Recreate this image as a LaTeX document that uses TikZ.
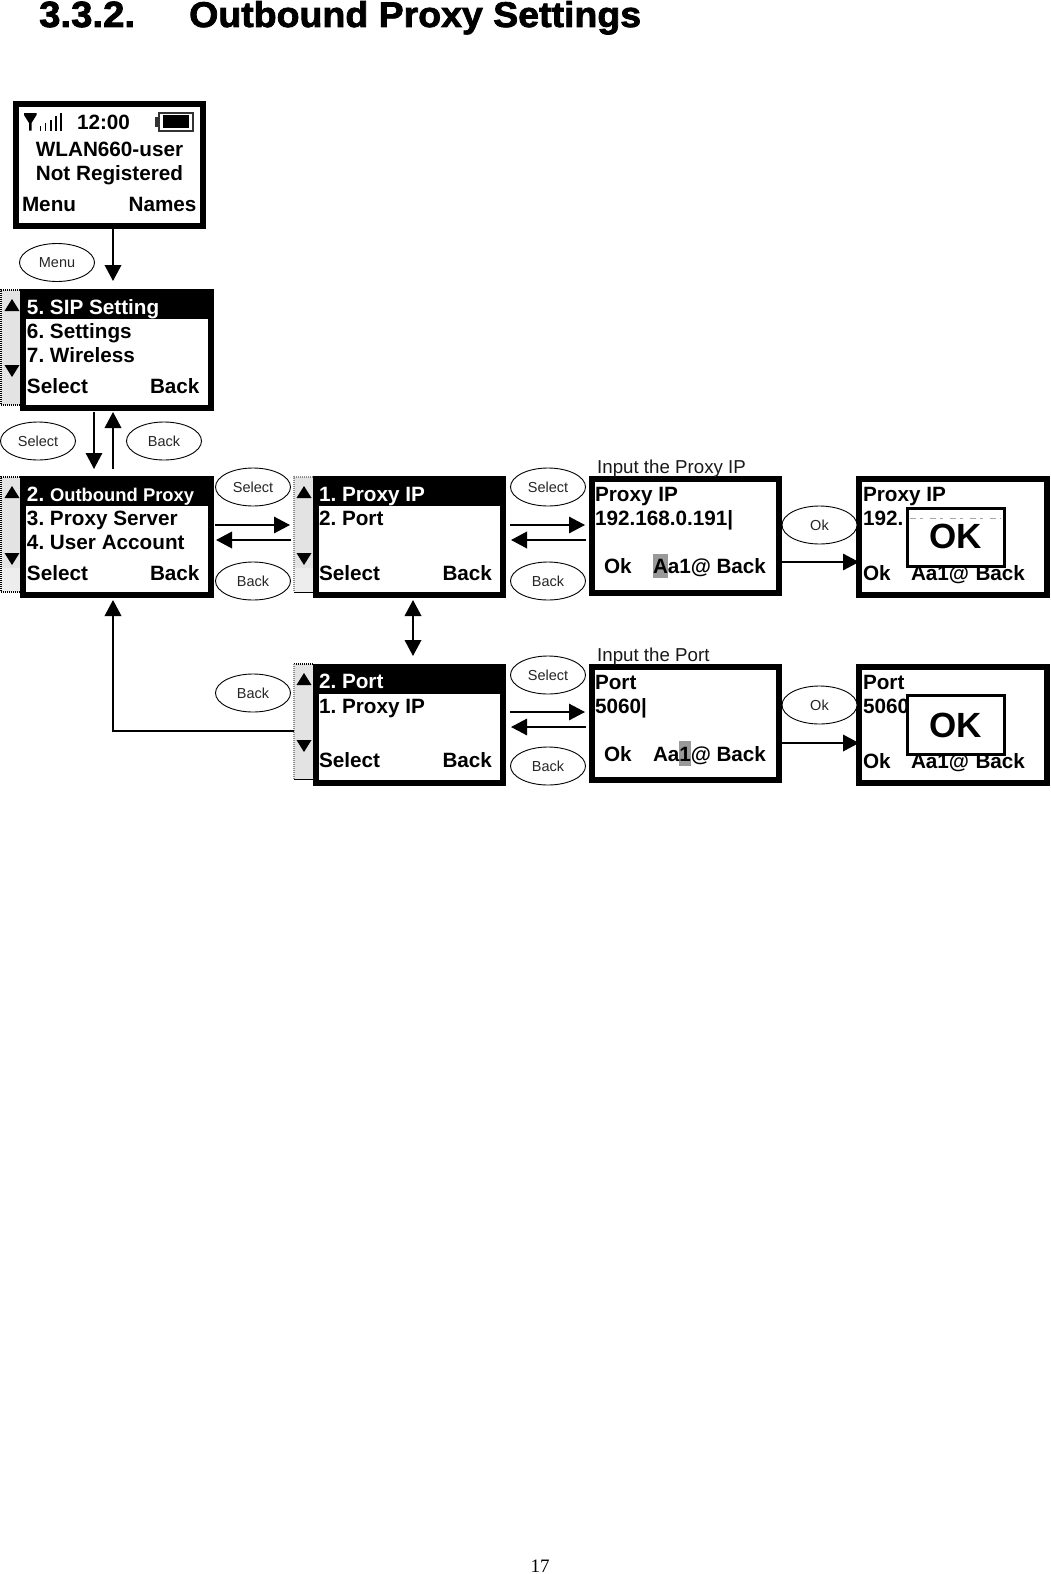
\documentclass[tikz,border=0pt]{standalone}
\usepackage{fontspec}
\setmainfont{Liberation Sans}
\newfontfamily\titlef[FakeBold=2.2,FakeStretch=1.05,UprightFont=* Bold]{Liberation Sans}
\newfontfamily\lcdb[UprightFont=* Bold]{Liberation Sans}
\newfontfamily\okf[UprightFont=* Bold]{Liberation Sans}
\newfontfamily\pagef{Liberation Serif}
\usetikzlibrary{arrows.meta,shapes.geometric}
\frenchspacing
\definecolor{sbgray}{gray}{0.89}
\definecolor{sblight}{gray}{0.93}
\definecolor{hl}{gray}{0.6}
\tikzset{
  screen/.style={draw=black,line width=6pt,fill=white,inner sep=0pt,outer sep=0pt,rectangle},
  headbar/.style={fill=black,draw=none},
  lcd/.style={font={\lcdb\fontsize{20.7}{24}\selectfont},inner sep=0pt,outer sep=0pt,anchor=base west,text=black},
  lcdw/.style={lcd,text=white},
  key/.style={draw=black,ellipse,fill=white,line width=0.9pt,minimum width=75pt,minimum height=38pt,inner sep=0pt,font={\fontsize{14.5}{16}\selectfont},text=black!85},
  note/.style={font={\fontsize{18.7}{22}\selectfont},inner sep=0pt,anchor=base west,text=black!90},
  okbox/.style={draw=black,line width=3pt,fill=white,inner sep=0pt,outer sep=0pt},
  oktext/.style={font={\okf\fontsize{35}{38}\selectfont},inner sep=0pt,anchor=base},
  arr/.style={-{Triangle[length=16pt,width=16.5pt]},line width=1.5pt,draw=black},
  arrb/.style={arr,line width=2pt},
  darr/.style={{Triangle[length=16pt,width=16.5pt]}-{Triangle[length=16pt,width=16.5pt]},line width=2pt},
  sbar/.style={rectangle,fill=sbgray,inner sep=0pt,outer sep=0pt,draw=none},
  dotb/.style={line width=1.6pt,dash pattern=on 1pt off 1pt,draw=black},
}
\newcommand{\scr}[5]{%
  \pgfmathsetmacro\cxx{(#2+#4)/2}\pgfmathsetmacro\cyy{(#3+#5)/2}%
  \pgfmathsetmacro\www{#4-#2-6}\pgfmathsetmacro\hhh{#5-#3-6}%
  \node[screen,minimum width=\www pt,minimum height=\hhh pt] (#1) at (\cxx,\cyy) {};}
\newcommand{\sbr}[5]{%
  \pgfmathsetmacro\cxx{(#2+#4)/2}\pgfmathsetmacro\cyy{(#3+#5)/2}%
  \pgfmathsetmacro\www{#4-#2}\pgfmathsetmacro\hhh{#5-#3}%
  \node[sbar,minimum width=\www pt,minimum height=\hhh pt] (#1) at (\cxx,\cyy) {};}
\newcommand{\triup}[2]{\fill[black] (#1-7.5,#2+12) -- (#1+7.5,#2+12) -- (#1,#2) -- cycle;}
\newcommand{\tridn}[2]{\fill[black] (#1-7.5,#2) -- (#1+7.5,#2) -- (#1,#2+12) -- cycle;}
\begin{document}
\begin{tikzpicture}[x=1pt,y=-1pt]
\useasboundingbox[fill=white] (0,0) rectangle (1050,1574);

% title and page number
\node[font={\titlef\fontsize{36.5}{42}\selectfont},inner sep=0pt,anchor=base west] (t1) at (39,27) {3.3.2.};
\node[font={\titlef\fontsize{35.7}{42}\selectfont},inner sep=0pt,anchor=base west] (t2) at (189,27) {Outbound Proxy Settings};
\node[font={\pagef\fontsize{19}{22}\selectfont},inner sep=0pt,anchor=base] (pg) at (540,1572) {17};

% scroll bars
\sbr{sb1}{1}{290}{20}{405}
\sbr{sb2}{1}{477}{20}{592}
\sbr{sb3}{294}{477}{313}{592}
\sbr{sb4}{294}{664}{313}{779}
\fill[sblight] (1,568) rectangle (20,592);
\fill[sblight] (294,568) rectangle (313,592);
\draw[dotb] (sb1.north east) -- (sb1.north west) -- (sb1.south west) -- (sb1.south east);
\draw[dotb] (sb2.north east) -- (sb2.north west) -- (sb2.south west) -- (sb2.south east);
\draw[dotb,draw=black!45] (sb3.north east) -- (sb3.north west) -- (sb3.south west);
\draw[line width=1pt] (sb3.south west) -- (sb3.south east);
\draw[dotb] (sb4.north east) -- (sb4.north west);
\draw[dotb,draw=black!45] (sb4.north west) -- (sb4.south west);
\draw[line width=1pt] (sb4.south west) -- (sb4.south east);
\triup{12}{299}\tridn{12}{365}
\triup{12}{486}\tridn{12}{553}
\triup{304}{486}\tridn{304}{553}
\triup{304}{673}\tridn{304}{740}

% screens
\scr{s0}{13}{101}{206}{229}
\scr{s1}{20}{289}{214}{411}
\scr{s2}{20}{476}{214}{598}
\scr{s3}{313}{476}{506}{598}
\scr{s4}{313}{664}{506}{786}
\scr{s5}{589}{476}{782}{596}
\scr{s6}{589}{664}{782}{783}
\scr{s7}{856}{476}{1050}{598}
\scr{s8}{856}{664}{1050}{786}

% header bars
\fill[headbar] (20,289) rectangle (214,319);
\fill[headbar] (20,476) rectangle (214,506);
\fill[headbar] (313,476) rectangle (506,506);
\fill[headbar] (313,664) rectangle (506,694);

% status icons
\fill[black] (24,113) -- (36.5,113) -- (36.5,115) -- (31.5,123) -- (31.5,130.5) -- (29,130.5) -- (29,123) -- (24,115) -- cycle;
\draw[line width=1.8pt] (40.5,130.5) -- (40.5,125.5) (45.5,130.5) -- (45.5,123) (50.7,130.5) -- (50.7,120) (55.7,130.5) -- (55.7,116) (60.7,130.5) -- (60.7,113);
\draw[line width=2pt,draw=black!80] (158.5,113) rectangle (192.5,130.5);
\fill[black] (163,115) rectangle (189,128);
\fill[black!80] (155,116.5) rectangle (158,127);

% screen 0
\node[lcd] (s0t) at (77,129) {12:00};
\node[lcd,anchor=base] (s0a) at (109.5,156) {WLAN660-user};
\node[lcd,anchor=base] (s0b) at (109.5,180) {Not Registered};
\node[lcd] (s0c) at (22,211) {Menu};
\node[lcd,anchor=base east] (s0d) at (196.5,211) {Names};

% screen 1
\node[lcdw] (s1a) at (27,314) {5. SIP Setting};
\node[lcd] (s1b) at (27,338) {6. Settings};
\node[lcd] (s1c) at (27,362) {7. Wireless};
\node[lcd] (s1d) at (27,393) {Select};
\node[lcd,anchor=base east] (s1e) at (199.5,393) {Back};

% screen 2
\node[lcdw] (s2a) at (27,501) {2. {\fontsize{18.4}{22}\selectfont Outbound Proxy}};
\node[lcd] (s2b) at (27,525) {3. Proxy Server};
\node[lcd] (s2c) at (27,549) {4. User Account};
\node[lcd] (s2d) at (27,580) {Select};
\node[lcd,anchor=base east] (s2e) at (199.5,580) {Back};

% screen 3
\node[lcdw] (s3a) at (319,501) {1. Proxy IP};
\node[lcd] (s3b) at (319,525) {2. Port};
\node[lcd] (s3d) at (319,580) {Select};
\node[lcd,anchor=base east] (s3e) at (492,580) {Back};

% screen 4
\node[lcdw] (s4a) at (319,688) {2. Port};
\node[lcd] (s4b) at (319,713) {1. Proxy IP};
\node[lcd] (s4d) at (319,767) {Select};
\node[lcd,anchor=base east] (s4e) at (492,767) {Back};

% screen 5
\fill[hl] (653,554) rectangle (668,578);
\node[lcd] (s5a) at (595,501) {Proxy IP};
\node[lcd] (s5b) at (595,525) {192.168.0.191|};
\node[lcd] (s5c) at (604,573) {Ok};
\node[lcd] (s5d) at (653,573) {Aa1@};
\node[lcd,anchor=base east] (s5e) at (766,573) {Back};

% screen 6
\fill[hl] (679,741) rectangle (691,766);
\node[lcd] (s6a) at (595,689) {Port};
\node[lcd] (s6b) at (595,713) {5060|};
\node[lcd] (s6c) at (604,761) {Ok};
\node[lcd] (s6d) at (653,761) {Aa1@};
\node[lcd,anchor=base east] (s6e) at (766,761) {Back};

% screen 7
\node[lcd] (s7a) at (863,501) {Proxy IP};
\node[lcd] (s7b) at (863,525) {192.};
\node[lcd] (s7c) at (863,580) {Ok};
\node[lcd] (s7d) at (911,580) {Aa1@};
\node[lcd,anchor=base east] (s7e) at (1025,580) {Back};
\node[okbox,minimum width=97pt,minimum height=58pt] (ok1) at (955.5,537.5) {};
\draw[black!35,line width=0.7pt,dash pattern=on 6pt off 4pt on 3pt off 7pt] (910,518) -- (1001,518);
\node[oktext] (ok1t) at (956,548) {OK};

% screen 8
\node[lcd] (s8a) at (863,689) {Port};
\node[lcd] (s8b) at (863,713) {5060};
\node[lcd] (s8c) at (863,768) {Ok};
\node[lcd] (s8d) at (911,768) {Aa1@};
\node[lcd,anchor=base east] (s8e) at (1025,768) {Back};
\node[okbox,minimum width=97pt,minimum height=59pt] (ok2) at (955.5,725) {};
\node[oktext] (ok2t) at (956,737) {OK};

% notes
\node[note] (n1) at (597,473) {Input the Proxy IP};
\node[note] (n2) at (597,661) {Input the Port};

% key ellipses
\node[key] (kmenu) at (57,262.5) {Menu};
\node[key] (ksel1) at (38,441) {Select};
\node[key] (kbk1) at (164,441) {Back};
\node[key] (ksel2) at (253,487) {Select};
\node[key] (kbk2) at (253,581) {Back};
\node[key] (kbk3) at (253,693) {Back};
\node[key] (ksel3) at (548,487) {Select};
\node[key] (kbk4) at (548,581) {Back};
\node[key] (ksel4) at (548,675) {Select};
\node[key] (kbk5) at (548,766) {Back};
\node[key] (kok1) at (819.5,525) {Ok};
\node[key] (kok2) at (819.5,705) {Ok};

% connector end points
\coordinate (a1) at (113,281);
\coordinate (a2s) at (94,412);
\coordinate (a2e) at (94,469);
\coordinate (a3s) at (113,469);
\coordinate (a3e) at (113,412);
\coordinate (a4s) at (215,525);
\coordinate (a4e) at (290,525);
\coordinate (a5s) at (291,540);
\coordinate (a5e) at (216,540);
\coordinate (a6s) at (510,525);
\coordinate (a6e) at (585,525);
\coordinate (a7s) at (586,540);
\coordinate (a7e) at (511,540);
\coordinate (a8s) at (510,712);
\coordinate (a8e) at (585,712);
\coordinate (a9s) at (586,727);
\coordinate (a9e) at (511,727);
\coordinate (a10s) at (413,600);
\coordinate (a10e) at (413,656);
\coordinate (a11m) at (113,731);
\coordinate (a11e) at (113,600);

% connectors
\draw[arrb] (a1 |- s0.south) -- (a1);
\draw[arr] (a2s) -- (a2e);
\draw[arrb] (a3s) -- (a3e);
\draw[arr] (a4s) -- (a4e);
\draw[arrb] (a5s) -- (a5e);
\draw[arr] (a6s) -- (a6e);
\draw[arrb] (a7s) -- (a7e);
\draw[arr] (a8s) -- (a8e);
\draw[arr] (a9s) -- (a9e);
\draw[darr] (a10s) -- (a10e);
\draw[arrb] (sb4.west |- a11m) -- (a11m) -- (a11e);
\draw[arr] (s5.east |- 782,562) -- (s7.west |- 856,562);
\draw[arrb] (s6.east |- 782,743) -- (s8.west |- 856,743);
\end{tikzpicture}
\end{document}
